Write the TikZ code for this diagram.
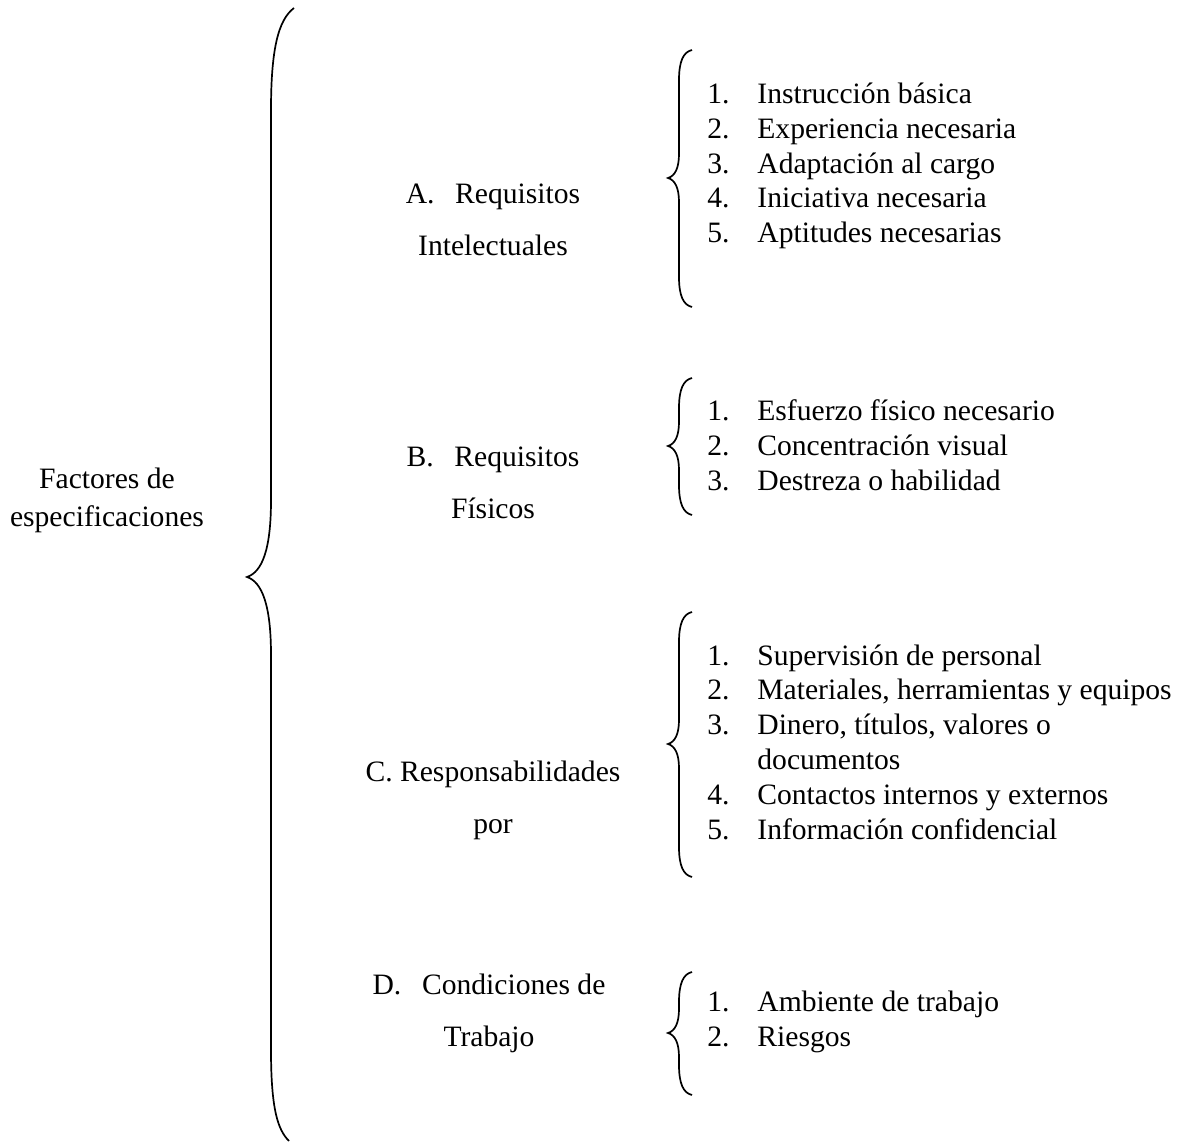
\documentclass[tikz,border=0pt]{standalone}
\usepackage{fontspec}
\setmainfont{Liberation Serif}
\newcommand\itemno[1]{\makebox[25pt][l]{#1}}
\begin{document}
\begin{tikzpicture}[x=0.5pt, y=-0.5pt,
    bracket/.style ={line width=0.85pt},
    factor/.style ={align=center, font=\fontsize{14.8}{19}\selectfont},
    category/.style ={align=center, font=\fontsize{14.8}{26}\selectfont},
    itemlist/.style ={anchor=west, align=left, inner sep=0pt, font=\fontsize{14.8}{17.4}\selectfont}]
   \useasboundingbox (0,0) rectangle (1180,1144);
   \node[factor] (F) at (107,500) {Factores de\\especificaciones};
   \node[category] (A) at (493,220) {A.\hspace{0.7em}Requisitos\\Intelectuales};
   \node[category] (B) at (493,483) {B.\hspace{0.7em}Requisitos\\Físicos};
   \node[category] (C) at (493,800) {C. Responsabilidades\\por};
   \node[category] (D) at (489,1013) {D.\hspace{0.7em}Condiciones de\\Trabajo};
   \node[itemlist] (A list) at (707,166) {\itemno{1.}Instrucción básica\\\itemno{2.}Experiencia necesaria\\\itemno{3.}Adaptación al cargo\\\itemno{4.}Iniciativa necesaria\\\itemno{5.}Aptitudes necesarias};
   \node[itemlist] (B list) at (707,445) {\itemno{1.}Esfuerzo físico necesario\\\itemno{2.}Concentración visual\\\itemno{3.}Destreza o habilidad};
   \node[itemlist] (C list) at (707,742) {\itemno{1.}Supervisión de personal\\\itemno{2.}Materiales, herramientas y equipos\\\itemno{3.}Dinero, títulos, valores o\\\itemno{}documentos\\\itemno{4.}Contactos internos y externos\\\itemno{5.}Información confidencial};
   \node[itemlist] (D list) at (707,1022) {\itemno{1.}Ambiente de trabajo\\\itemno{2.}Riesgos};
   % big brace
   \draw[bracket] (294,8) .. controls (278,20) and (271,50) .. (271,110) -- (271,500)
      .. controls (271,550) and (262,572) .. (247,577) .. controls (262,582) and (271,605) .. (271,655)
      -- (271,1050) .. controls (271,1110) and (278,1130) .. (289,1141);
   % small braces
   \foreach \ya/\ym/\yb in {50/178/307, 378/446/515, 612/744/877, 972/1033/1095}
      \draw[bracket] (692,\ya) .. controls (683,\ya+2) and (679,\ya+12) .. (679,\ya+30) -- (679,\ym-24)
         .. controls (679,\ym-10) and (675,\ym-2) .. (668,\ym) .. controls (675,\ym+2) and (679,\ym+10) .. (679,\ym+24)
         -- (679,\yb-30) .. controls (679,\yb-12) and (683,\yb-2) .. (692,\yb);
\end{tikzpicture}
\end{document}
